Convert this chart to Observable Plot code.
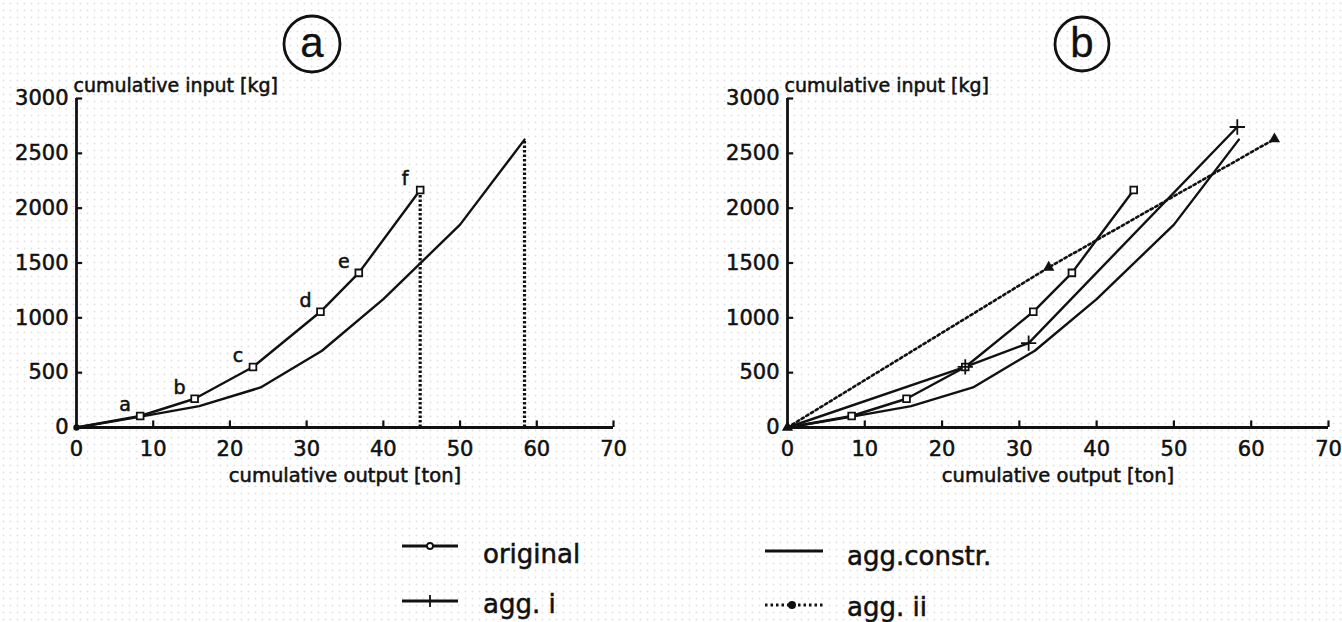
<!DOCTYPE html>
<html>
<head>
<meta charset="utf-8">
<script src="https://cdn.jsdelivr.net/npm/d3@7"></script>
<script src="https://cdn.jsdelivr.net/npm/@observablehq/plot@0.6"></script>
<style>
  html, body { margin: 0; padding: 0; }
  body {
    width: 1342px; height: 622px; overflow: hidden; position: relative;
    background-color: #fff;
    background-image: radial-gradient(#e3e3e3 0.9px, transparent 1.1px);
    background-size: 7px 7px;
    font-family: "DejaVu Sans", sans-serif;
  }
  .panel { position: absolute; top: 0; }
  #overlay { position: absolute; left: 0; top: 0; pointer-events: none; }
  svg text { stroke: #111; stroke-width: 0.55px; }
</style>
</head>
<body>
<div id="pa" class="panel" style="left:0px"></div>
<div id="pb" class="panel" style="left:700px"></div>
<svg id="overlay" width="1342" height="622"></svg>
<script>
// ---- data ----
const xTicks = [0, 10, 20, 30, 40, 50, 60, 70];
const yTicks = [0, 500, 1000, 1500, 2000, 2500, 3000];

// original (points a..f)
const origX = [0, 8.3, 15.4, 23.0, 31.8, 36.8, 44.8];
const origY = [0, 105, 262, 552, 1055, 1410, 2165];
const origLabels = ["", "a", "b", "c", "d", "e", "f"];

// agg.constr.
const constrX = [0, 8, 16, 24, 32, 40, 50, 58.4];
const constrY = [0, 95, 195, 365, 700, 1170, 1850, 2625];

// agg. i
const aggIX = [0, 23.0, 31.2, 58.2];
const aggIY = [0, 552, 770, 2740];

// agg. ii
const aggIIX = [0, 33.8, 63.0];
const aggIIY = [0, 1460, 2630];

const xTitle = "cumulative output [ton]";
const yTitle = "cumulative input [kg]";
const panelLabels = ["a", "b"];
const legendNames = ["original", "agg. i", "agg.constr.", "agg. ii"];

// ---- tables ----
const toRows = (xs, ys, extra) => xs.map((x, i) => ({x, y: ys[i], label: extra ? extra[i] : ""}));
const original = toRows(origX, origY, origLabels);
const constr = toRows(constrX, constrY);
const aggI = toRows(aggIX, aggIY);
const aggII = toRows(aggIIX, aggIIY);

const ink = "#111";
const lw = 2.4;

function axesMarks() {
  return [
    Plot.ruleY([0], {x1: 0, x2: 70, stroke: ink, strokeWidth: 2.8}),
    Plot.ruleX([0], {y1: 0, y2: 3000, stroke: ink, strokeWidth: 2.8}),
    Plot.ruleX(xTicks.slice(1), {y1: 0, y2: 60, stroke: ink, strokeWidth: 2.2}),
    Plot.ruleY(yTicks.slice(1), {x1: 0, x2: 0.8, stroke: ink, strokeWidth: 2.2}),
    Plot.text([yTitle], {frameAnchor: "top-left", lineAnchor: "middle", dy: -13, dx: -3, textAnchor: "start", fontSize: 19, fill: ink}),
    Plot.text([xTitle], {frameAnchor: "bottom", lineAnchor: "middle", dy: 48, fontSize: 19.5, fill: ink})
  ];
}

function common(marginLeft, width, marginRight) {
  return {
    width, height: 500,
    marginLeft, marginRight, marginTop: 98, marginBottom: 73,
    x: {domain: [0, 70], ticks: xTicks, tickSize: 0, tickPadding: 14, tickFormat: d => String(d), label: null},
    y: {domain: [0, 3000], ticks: yTicks, tickSize: 0, tickPadding: 8, tickFormat: d => String(d), label: null},
    style: {fontFamily: "DejaVu Sans, sans-serif", fontSize: "21px", color: ink, background: "transparent", overflow: "visible"}
  };
}

// ---- panel a ----
const lastO = original[original.length - 1];
const lastC = constr[constr.length - 1];
const plotA = Plot.plot({
  ...common(76, 660, 47),
  marks: [
    ...axesMarks(),
    Plot.ruleX([lastO, lastC], {x: "x", y1: 0, y2: "y", stroke: ink, strokeWidth: 3.2, strokeDasharray: "2.5,2"}),
    Plot.line(constr, {x: "x", y: "y", stroke: ink, strokeWidth: lw}),
    Plot.line(original, {x: "x", y: "y", stroke: ink, strokeWidth: lw}),
    Plot.dot(original.slice(1), {x: "x", y: "y", symbol: "square", r: 3.8, stroke: ink, fill: "white", strokeWidth: 1.8}),
    Plot.dot(original.slice(0, 1), {x: "x", y: "y", r: 3.2, fill: ink}),
    Plot.text(original, {x: "x", y: "y", text: "label", dx: -15, dy: -11, fontSize: 19, fill: ink})
  ]
});
document.getElementById("pa").appendChild(plotA);

// ---- panel b ----
const plotB = Plot.plot({
  ...common(87, 642, 14),
  marks: [
    ...axesMarks(),
    Plot.line(constr, {x: "x", y: "y", stroke: ink, strokeWidth: lw}),
    Plot.line(aggI, {x: "x", y: "y", stroke: ink, strokeWidth: lw}),
    Plot.line(aggII, {x: "x", y: "y", stroke: ink, strokeWidth: 2.6, strokeDasharray: "2.5,3"}),
    Plot.line(original, {x: "x", y: "y", stroke: ink, strokeWidth: lw}),
    Plot.dot(original.slice(1), {x: "x", y: "y", symbol: "square", r: 3.8, stroke: ink, fill: "white", strokeWidth: 1.8}),
    Plot.dot(aggI.slice(1), {x: "x", y: "y", symbol: "plus", r: 5, stroke: ink, strokeWidth: 1.8}),
    Plot.dot(aggII, {x: "x", y: "y", symbol: "triangle", r: 4.2, fill: ink})
  ]
});
document.getElementById("pb").appendChild(plotB);

// ---- overlay: circled panel letters & legend ----
const ov = d3.select("#overlay");
const circ = [[312, 44, 28], [1082, 44, 27]];
panelLabels.forEach((t, i) => {
  const [cx, cy, r] = circ[i];
  ov.append("circle").attr("cx", cx).attr("cy", cy).attr("r", r)
    .attr("fill", "none").attr("stroke", ink).attr("stroke-width", 2.8);
  ov.append("text").attr("x", cx).attr("y", cy + 13).attr("text-anchor", "middle")
    .attr("font-family", "Liberation Sans, Arial, sans-serif").attr("font-size", 42).attr("fill", ink)
    .style("stroke-width", "0.3px").text(t);
});

const leg = [
  {name: legendNames[0], x0: 402, x1: 458, y: 546, tx: 483, ty: 563, dash: null, sym: "circle"},
  {name: legendNames[1], x0: 402, x1: 458, y: 601, tx: 483, ty: 613, dash: null, sym: "plus"},
  {name: legendNames[2], x0: 765, x1: 823, y: 551, tx: 847, ty: 565, dash: null, sym: null},
  {name: legendNames[3], x0: 765, x1: 823, y: 605, tx: 847, ty: 616, dash: "2.5,3", sym: "dot"}
];
leg.forEach(d => {
  ov.append("line").attr("x1", d.x0).attr("x2", d.x1).attr("y1", d.y).attr("y2", d.y)
    .attr("stroke", ink).attr("stroke-width", 2.8).attr("stroke-dasharray", d.dash);
  const mx = d.sym === "dot" ? 792 : 430;
  if (d.sym === "circle") ov.append("circle").attr("cx", mx).attr("cy", d.y).attr("r", 3).attr("fill", "white").attr("stroke", ink).attr("stroke-width", 1.8);
  if (d.sym === "plus") ov.append("line").attr("x1", mx).attr("x2", mx).attr("y1", d.y - 6).attr("y2", d.y + 6).attr("stroke", ink).attr("stroke-width", 1.8);
  if (d.sym === "dot") ov.append("circle").attr("cx", mx).attr("cy", d.y).attr("r", 4).attr("fill", ink);
  ov.append("text").attr("x", d.tx).attr("y", d.ty).attr("font-family", "DejaVu Sans, sans-serif")
    .attr("font-size", 26).attr("fill", ink).text(d.name);
});
</script>
</body>
</html>
